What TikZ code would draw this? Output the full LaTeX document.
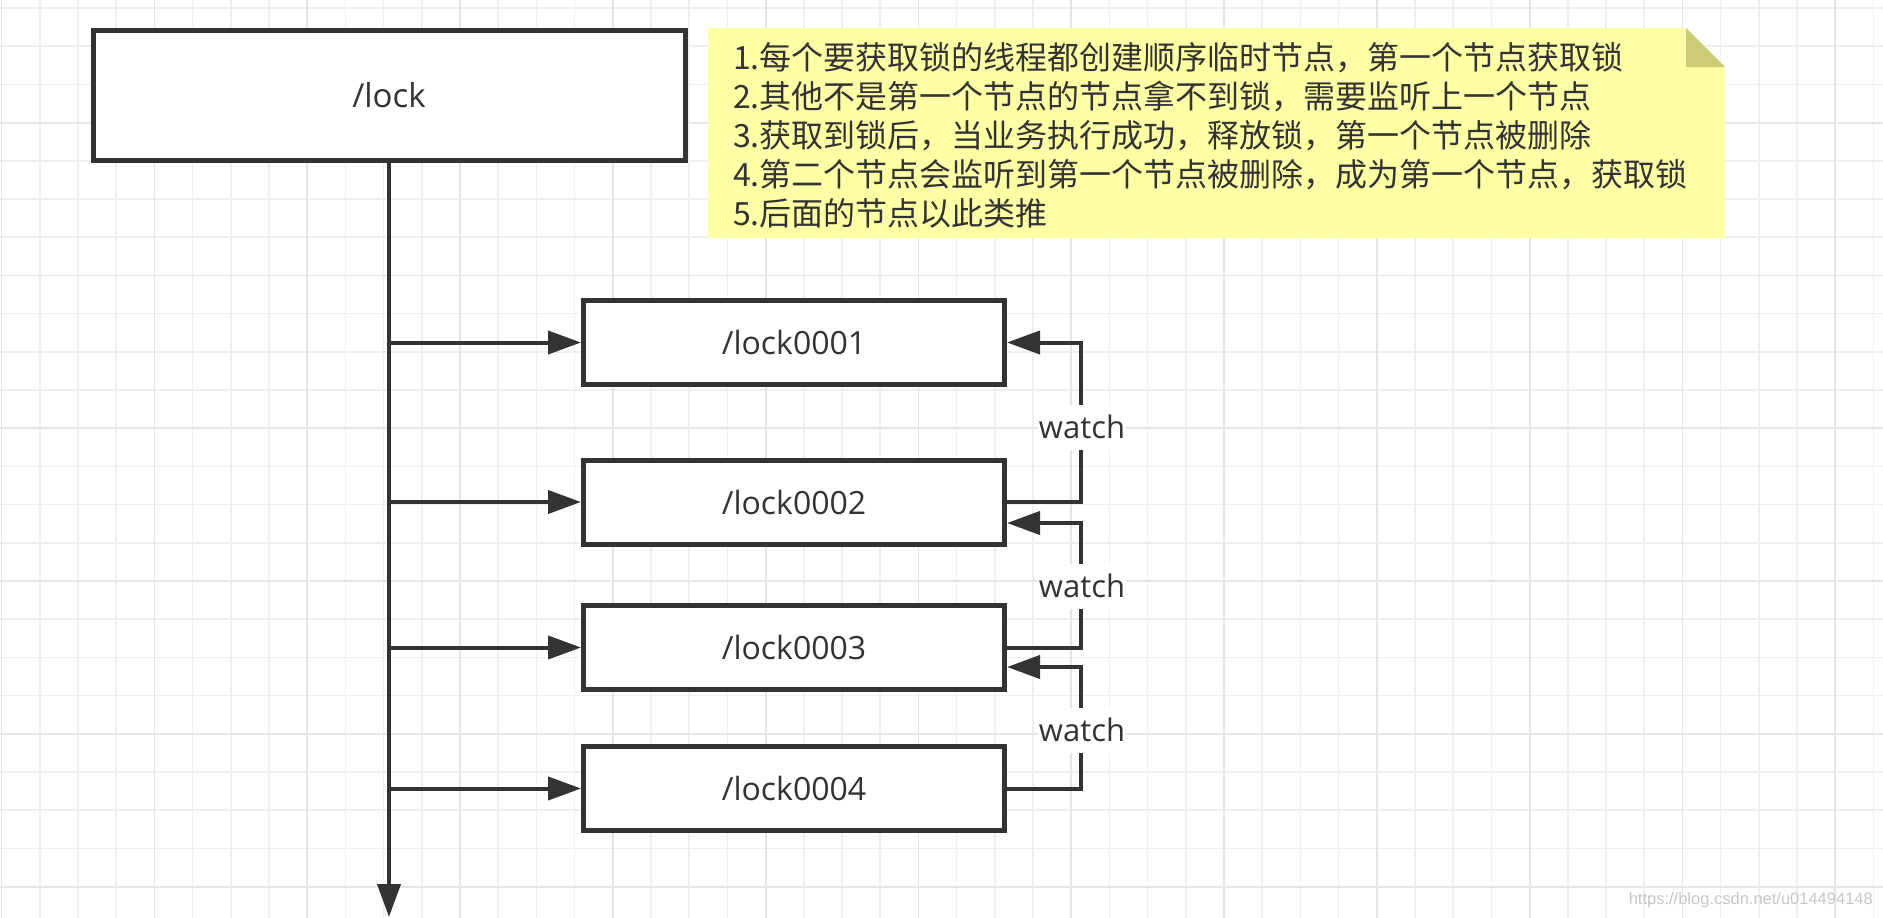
\documentclass[tikz,border=0pt]{standalone}
\usepackage{fontspec}
\setmainfont{Open Sans}
\newfontfamily\cjk{Noto Sans CJK SC}
\newfontfamily\wmfont{Liberation Sans}
\usetikzlibrary{arrows.meta,calc}
\definecolor{ink}{HTML}{333333}
\definecolor{gridminor}{HTML}{EFEFEF}
\definecolor{gridmajor}{HTML}{E5E5E5}
\definecolor{notefill}{HTML}{FFFFA6}
\definecolor{notefold}{HTML}{CCCC78}
\begin{document}
\begin{tikzpicture}[x=1pt,y=-1pt,
  box/.style={draw=ink, line width=5pt, fill=white, text=ink,
    font=\fontsize{32}{38}\selectfont, minimum width=421pt,
    minimum height=84pt, inner sep=0pt},
  conn/.style={draw=ink, line width=4pt},
  tip/.style={-{Triangle[length=33pt,width=23pt]}},
  watchlbl/.style={fill=white, text=ink, font=\fontsize{31}{37}\selectfont,
    inner xsep=1pt, inner ysep=0pt, minimum height=45pt},
  notetxt/.style={text=ink, font=\cjk\fontsize{32}{38}\selectfont, inner sep=0pt},
  gmin/.style={draw=gridminor, line width=1.6pt},
  gmaj/.style={draw=gridmajor, line width=1.8pt}]
\useasboundingbox (0,0) rectangle (1883,918);
\fill[white] (0,0) rectangle (1883,918);
% grid
\foreach \k in {-2,...,47} \draw[gmin] ({78+38.2*\k},0) -- ({78+38.2*\k},918);
\foreach \k in {0,...,23} \draw[gmin] (0,{8+38.2*\k}) -- (1883,{8+38.2*\k});
\foreach \m in {-1,...,11} \draw[gmaj] ({154.4+152.8*\m},0) -- ({154.4+152.8*\m},918);
\foreach \m in {0,...,5} \draw[gmaj] (0,{122.6+152.8*\m}) -- (1883,{122.6+152.8*\m});
% note
\fill[notefill] (708,28) -- (1686,28) -- (1725,67) -- (1725,238) -- (708,238) -- cycle;
\fill[notefold] (1686,28) -- (1686,67) -- (1725,67) -- cycle;
\node[notetxt, anchor=base west] (n1) at (733,69) {1.每个要获取锁的线程都创建顺序临时节点，第一个节点获取锁};
\node[notetxt, anchor=base west] (n2) at (733,108) {2.其他不是第一个节点的节点拿不到锁，需要监听上一个节点};
\node[notetxt, anchor=base west] (n3) at (733,147) {3.获取到锁后，当业务执行成功，释放锁，第一个节点被删除};
\node[notetxt, anchor=base west] (n4) at (733,186) {4.第二个节点会监听到第一个节点被删除，成为第一个节点，获取锁};
\node[notetxt, anchor=base west] (n5) at (733,225) {5.后面的节点以此类推};
% nodes
\node[box, minimum width=592pt, minimum height=130pt, font=\fontsize{33}{39}\selectfont] (lock) at (389,95.5) {/lock};
\node[box] (b1) at (794,342.5) {/lock0001};
\node[box] (b2) at (794,502) {/lock0002};
\node[box] (b3) at (794,647.5) {/lock0003};
\node[box] (b4) at (794,788.5) {/lock0004};
% trunk
\coordinate (trunkend) at (389,917);
\draw[conn,tip] (lock.south) -- (trunkend);
\foreach \b in {b1,b2,b3,b4} \draw[conn,tip] (lock.south |- \b.west) -- (\b.west);
% watch connectors
\coordinate (wx) at (1081,0);
\coordinate (in2) at ($(b2.east)+(0,21)$);
\coordinate (in3) at ($(b3.east)+(0,19.5)$);
\draw[conn,tip] (b2.east) -| (wx |- b1.east) -- (b1.east);
\draw[conn,tip] (b3.east) -| (wx |- in2) -- (in2);
\draw[conn,tip] (b4.east) -| (wx |- in3) -- (in3);
\node[watchlbl] (w1) at (1082,427) {watch};
\node[watchlbl] (w2) at (1082,586) {watch};
\node[watchlbl] (w3) at (1082,730) {watch};
% watermark
\node[font=\wmfont\fontsize{16.5}{18}\selectfont, text=black!22, anchor=east, inner sep=0pt] (wm) at (1873,900) {https://blog.csdn.net/u014494148};
\end{tikzpicture}
\end{document}
